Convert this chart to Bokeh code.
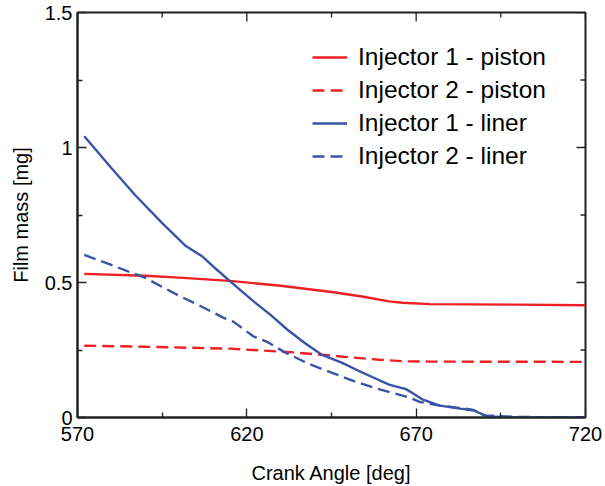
import math
from bokeh.plotting import figure
from bokeh.models import FixedTicker, Range1d, Legend, LegendItem
from bokeh.embed import file_html
from bokeh.resources import INLINE

# Data
inj1_piston_x = [572, 590, 600, 615, 630, 645, 654, 662, 666, 674, 700, 720]
inj1_piston_y = [0.532, 0.525, 0.518, 0.506, 0.488, 0.465, 0.448, 0.43, 0.425, 0.42, 0.418, 0.416]

inj2_piston_x = [572, 590, 615, 634, 645, 659, 667, 674, 720]
inj2_piston_y = [0.266, 0.262, 0.255, 0.241, 0.229, 0.214, 0.208, 0.207, 0.206]

inj1_liner_x = [572, 580, 587, 595, 602, 607, 611, 615, 622, 627, 632, 637, 642, 648, 653, 657, 662, 667, 669, 672, 677, 683, 687, 691, 700, 720]
inj1_liner_y = [1.042, 0.924, 0.824, 0.72, 0.635, 0.595, 0.549, 0.505, 0.43, 0.38, 0.325, 0.277, 0.233, 0.203, 0.173, 0.15, 0.122, 0.105, 0.09, 0.066, 0.044, 0.033, 0.026, 0.004, 0.0, 0.0]

inj2_liner_x = [572, 580, 590, 599.5, 606, 613, 616, 622, 626, 631, 638, 645, 652, 659.5, 668, 671, 677, 683, 687, 690, 700, 720]
inj2_liner_y = [0.602, 0.565, 0.517, 0.454, 0.415, 0.37, 0.355, 0.30, 0.28, 0.243, 0.20, 0.166, 0.133, 0.103, 0.074, 0.058, 0.044, 0.035, 0.028, 0.008, 0.002, 0.0]

labels = ["Injector 1 - piston", "Injector 2 - piston", "Injector 1 - liner", "Injector 2 - liner"]
x_ticks = [570, 620, 670, 720]
x_minor = [595, 645, 695]
y_ticks = [0, 0.5, 1, 1.5]
y_minor = [0.25, 0.75, 1.25]
y_tick_labels = {0: "0", 0.5: "0.5", 1: "1", 1.5: "1.5"}

RED = "#ee2024"
BLUE = "#3a53a6"
FONT = "Liberation Sans"
AX = "#222222"
LW = 2.4
DASH = "12 6"

x0, x1 = x_ticks[0], x_ticks[-1]
y0, y1 = y_ticks[0], y_ticks[-1]

p = figure(width=605, height=486, output_backend="svg", toolbar_location=None,
           x_range=Range1d(x0, x1), y_range=Range1d(y0, y1),
           min_border_left=77, min_border_right=20, min_border_top=12, min_border_bottom=68,
           x_axis_label="Crank Angle [deg]", y_axis_label="Film mass [mg]")
p.grid.visible = False
p.outline_line_color = AX
p.outline_line_width = 2
p.background_fill_color = "white"
p.border_fill_color = "white"

r1 = p.line(inj1_piston_x, inj1_piston_y, line_color=RED, line_width=LW)
r2 = p.line(inj2_piston_x, inj2_piston_y, line_color=RED, line_width=LW, line_dash=DASH)
r3 = p.line(inj1_liner_x, inj1_liner_y, line_color=BLUE, line_width=LW)
r4 = p.line(inj2_liner_x, inj2_liner_y, line_color=BLUE, line_width=LW, line_dash=DASH)

for ax, ticks, minor in ((p.xaxis[0], x_ticks, x_minor), (p.yaxis[0], y_ticks, y_minor)):
    ax.ticker = FixedTicker(ticks=ticks, minor_ticks=minor)
    ax.axis_line_color = AX
    ax.axis_line_width = 2
    ax.major_tick_in = 9
    ax.major_tick_out = 0
    ax.minor_tick_in = 5
    ax.minor_tick_out = 0
    ax.major_tick_line_color = AX
    ax.minor_tick_line_color = AX
    ax.major_tick_line_width = 1.3
    ax.minor_tick_line_width = 1.3
    ax.major_label_text_font = FONT
    ax.major_label_text_font_size = "20px"
    ax.major_label_text_color = "black"
    ax.axis_label_text_font = FONT
    ax.axis_label_text_font_size = "20px"
    ax.axis_label_text_font_style = "normal"
    ax.axis_label_text_color = "black"

p.xaxis[0].major_label_standoff = 9
p.xaxis[0].axis_label_standoff = 18
p.yaxis[0].major_label_standoff = 5
p.yaxis[0].axis_label_standoff = 10
p.yaxis[0].major_label_overrides = y_tick_labels

# Inward ticks on the top and right edges of the box
p.ray(x=x_ticks, y=[y1] * len(x_ticks), length=9, length_units="screen",
      angle=-math.pi / 2, line_color=AX, line_width=1.3)
p.ray(x=x_minor, y=[y1] * len(x_minor), length=5, length_units="screen",
      angle=-math.pi / 2, line_color=AX, line_width=1.3)
p.ray(x=[x1] * len(y_ticks), y=y_ticks, length=9, length_units="screen",
      angle=math.pi, line_color=AX, line_width=1.3)
p.ray(x=[x1] * len(y_minor), y=y_minor, length=5, length_units="screen",
      angle=math.pi, line_color=AX, line_width=1.3)

legend = Legend(items=[LegendItem(label=labels[0], renderers=[r1]),
                       LegendItem(label=labels[1], renderers=[r2]),
                       LegendItem(label=labels[2], renderers=[r3]),
                       LegendItem(label=labels[3], renderers=[r4])],
                location=(235, 247))
legend.border_line_color = None
legend.background_fill_alpha = 0
legend.label_text_font = FONT
legend.label_text_font_size = "24.5px"
legend.label_text_color = "black"
legend.glyph_width = 35
legend.glyph_height = 20
legend.label_height = 20
legend.label_standoff = 11
legend.spacing = 5
legend.padding = 0
legend.margin = 0
p.add_layout(legend, "center")

open("out.html", "w").write(file_html(p, INLINE))
